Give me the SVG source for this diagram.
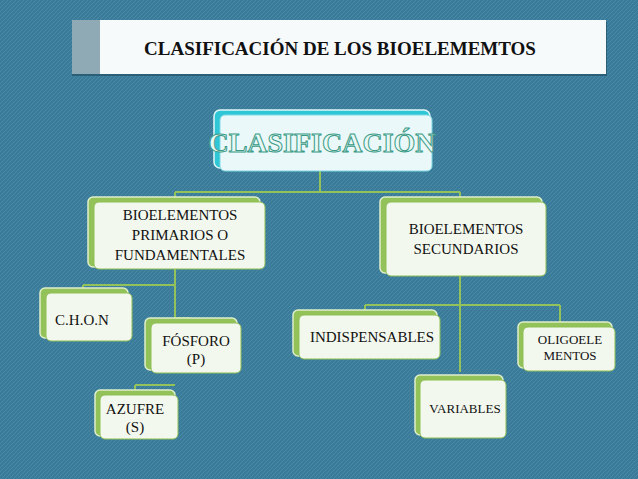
<svg xmlns="http://www.w3.org/2000/svg" width="638" height="479" viewBox="0 0 638 479">
<defs>
<pattern id="tx" width="4" height="4" patternUnits="userSpaceOnUse"><rect width="4" height="4" fill="#3a7b99"/><path d="M0 4L4 0" stroke="#4a8aa6" stroke-width="1"/></pattern>
</defs>
<style>
.g{fill:#93c25a;stroke:#dfeecb;stroke-width:1.5}
.w{fill:#f3f8ee;stroke:#8fbf55;stroke-width:1}
.t{font-family:"Liberation Serif",serif;font-size:15px;fill:#111;text-anchor:middle}
.c{stroke:#93c25a;stroke-width:2;fill:none}
</style>
<rect width="638" height="479" fill="url(#tx)"/>
<g id="banner">
<rect x="72" y="22" width="535" height="54" fill="#2b5f78"/>
<rect x="98" y="20" width="508" height="54" fill="#f7fafb"/>
<rect x="72" y="20" width="28" height="54" fill="#8fa9b5"/>
<text x="340" y="55" font-family="Liberation Serif,serif" font-size="19" font-weight="bold" text-anchor="middle" fill="#111">CLASIFICACIÓN DE LOS BIOELEMEMTOS</text>
</g>
<g id="connectors">
<path class="c" d="M320 170V192M175 192H460M175 192V198M460 192V198"/>
<path class="c" d="M175 268V372M83 285H175M83 285V290M175 318H190M135 385H175M135 385V392"/>
<path class="c" d="M460 275V372M365 305H560M365 305V312M560 305V322"/>
</g>
<g id="clasificacion">
<rect x="214" y="110" width="216" height="58" rx="6" fill="#2fc6d6" stroke="#dff6f8" stroke-width="1.5"/>
<rect x="220" y="115" width="212" height="56" rx="5" fill="#eaf8fa" stroke="#7fd9e3"/>
<text x="322" y="152" font-family="Liberation Serif,serif" font-size="28" font-weight="bold" text-anchor="middle" fill="#e8f8f4" stroke="#3a9a86" stroke-width="1">CLASIFICACIÓN</text>
</g>
<g id="primarios">
<rect class="g" x="88" y="197" width="172" height="70" rx="5"/>
<rect class="w" x="94" y="202" width="171" height="67" rx="5"/>
<text class="t" x="180" y="220">BIOELEMENTOS</text><text class="t" x="180" y="240">PRIMARIOS O</text><text class="t" x="180" y="260">FUNDAMENTALES</text>
</g>
<g id="secundarios">
<rect class="g" x="380" y="197" width="162" height="76" rx="5"/>
<rect class="w" x="386" y="202" width="160" height="74" rx="5"/>
<text class="t" x="466" y="234">BIOELEMENTOS</text><text class="t" x="466" y="254">SECUNDARIOS</text>
</g>
<g id="chon">
<rect class="g" x="40" y="288" width="88" height="50" rx="5"/>
<rect class="w" x="46" y="293" width="86" height="48" rx="5"/>
<text class="t" x="82" y="325" text-anchor="middle">C.H.O.N</text>
</g>
<g id="fosforo">
<rect class="g" x="145" y="318" width="92" height="52" rx="5"/>
<rect class="w" x="151" y="323" width="90" height="50" rx="5"/>
<text class="t" x="196" y="346">FÓSFORO</text><text class="t" x="196" y="364">(P)</text>
</g>
<g id="azufre">
<rect class="g" x="95" y="390" width="80" height="46" rx="5"/>
<rect class="w" x="100" y="395" width="78" height="44" rx="5"/>
<text class="t" x="135" y="414">AZUFRE</text><text class="t" x="135" y="432">(S)</text>
</g>
<g id="indispensables">
<rect class="g" x="293" y="310" width="144" height="46" rx="5"/>
<rect class="w" x="299" y="315" width="141" height="44" rx="5"/>
<text class="t" x="372" y="342" font-size="14">INDISPENSABLES</text>
</g>
<g id="variables">
<rect class="g" x="415" y="375" width="88" height="60" rx="5"/>
<rect class="w" x="420" y="380" width="86" height="58" rx="5"/>
<text class="t" x="465" y="413" style="font-size:13px">VARIABLES</text>
</g>
<g id="oligo">
<rect class="g" x="518" y="322" width="94" height="46" rx="5"/>
<rect class="w" x="523" y="327" width="92" height="44" rx="5"/>
<text class="t" x="570" y="344" style="font-size:13px">OLIGOELE</text><text class="t" x="570" y="360" style="font-size:13px">MENTOS</text>
</g>
</svg>
